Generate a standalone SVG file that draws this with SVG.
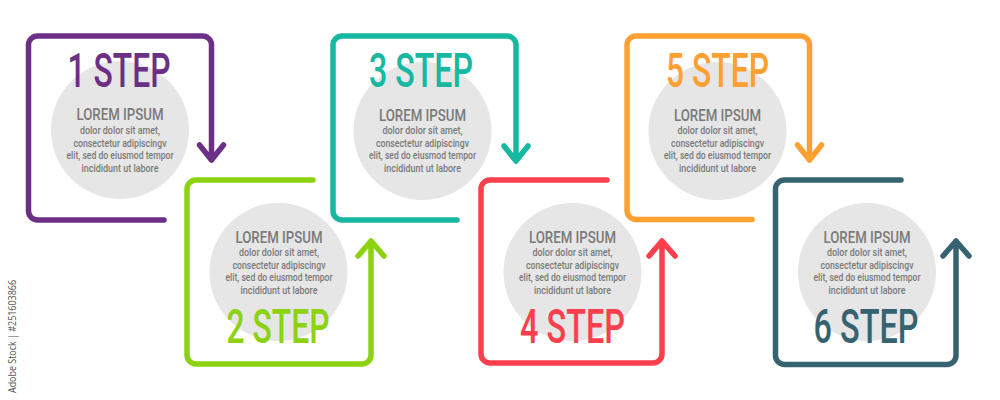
<svg xmlns="http://www.w3.org/2000/svg" width="1000" height="400" viewBox="0 0 1000 400">
<style>
.frame{fill:none;stroke-width:5.5;stroke-linecap:round;stroke-linejoin:round}
.disc{fill:#e6e6e6}
.step{font-family:Roboto,"Liberation Sans",Arial,sans-serif;font-size:48px;font-weight:500;text-anchor:middle}
.title{font-family:Roboto,"Liberation Sans",Arial,sans-serif;font-size:17px;font-weight:500;fill:#7a7a7a;text-anchor:middle}
.body{font-family:Roboto,"Liberation Sans",Arial,sans-serif;font-size:11.5px;font-weight:500;fill:#7a7a7a;text-anchor:middle}
.wm{font-family:"Open Sans","Liberation Sans",sans-serif;font-size:10px;fill:#555}
.c1{stroke:#6b2f86}.c2{stroke:#8cd211}.c3{stroke:#17b8a2}.c4{stroke:#fb3f4c}.c5{stroke:#ffa030}.c6{stroke:#376370}
</style>
<rect width="1000" height="400" fill="#ffffff"/>
<g id="connectors">
  <path class="frame c1" d="M164 220 H37.5 A9 9 0 0 1 28.5 211 V45 A9 9 0 0 1 37.5 36 H202.5 A9 9 0 0 1 211.5 45 V160 M199.5 145 L211.5 160 L223.5 145"/>
  <path class="frame c2" d="M313 180 H196 A9 9 0 0 0 187 189 V355 A9 9 0 0 0 196 364 H362 A9 9 0 0 0 371 355 V241 M358 256 L371 241 L384 256"/>
  <path class="frame c3" d="M457 220 H342 A9 9 0 0 1 333 211 V45 A9 9 0 0 1 342 36 H507 A9 9 0 0 1 516 45 V161 M504 146 L516 161 L528 146"/>
  <path class="frame c4" d="M607 180 H490 A9 9 0 0 0 481 189 V354 A9 9 0 0 0 490 363 H653 A9 9 0 0 0 662 354 V241 M649 256 L662 241 L675 256"/>
  <path class="frame c5" d="M752 219.5 H636 A9 9 0 0 1 627 210.5 V45 A9 9 0 0 1 636 36 H800.5 A9 9 0 0 1 809.5 45 V160 M797.5 145 L809.5 160 L821.5 145"/>
  <path class="frame c6" d="M901 180 H784.5 A9 9 0 0 0 775.5 189 V355.5 A9 9 0 0 0 784.5 364.5 H947 A9 9 0 0 0 956 355.5 V241 M943 256 L956 241 L969 256"/>
</g>
<g id="step1">
  <circle class="disc" cx="120" cy="130" r="69"/>
  <text class="step" x="119" y="86.5" fill="#6b2f86" textLength="103" lengthAdjust="spacingAndGlyphs">1 STEP</text>
  <text class="title" x="120" y="120" textLength="87" lengthAdjust="spacingAndGlyphs">LOREM IPSUM</text>
  <text class="body" x="120" y="134" textLength="80" lengthAdjust="spacingAndGlyphs">dolor dolor sit amet,</text>
  <text class="body" x="120" y="146.5" textLength="93" lengthAdjust="spacingAndGlyphs">consectetur adipiscingv</text>
  <text class="body" x="120" y="159" textLength="107" lengthAdjust="spacingAndGlyphs">elit, sed do eiusmod tempor</text>
  <text class="body" x="120" y="171.5" textLength="77" lengthAdjust="spacingAndGlyphs">incididunt ut labore</text>
</g>
<g id="step2">
  <circle class="disc" cx="278.5" cy="272" r="69"/>
  <text class="title" x="279" y="243" textLength="87" lengthAdjust="spacingAndGlyphs">LOREM IPSUM</text>
  <text class="body" x="279" y="256" textLength="80" lengthAdjust="spacingAndGlyphs">dolor dolor sit amet,</text>
  <text class="body" x="279" y="268.5" textLength="93" lengthAdjust="spacingAndGlyphs">consectetur adipiscingv</text>
  <text class="body" x="279" y="281" textLength="107" lengthAdjust="spacingAndGlyphs">elit, sed do eiusmod tempor</text>
  <text class="body" x="279" y="293.5" textLength="77" lengthAdjust="spacingAndGlyphs">incididunt ut labore</text>
  <text class="step" x="278" y="343" fill="#8cd211" textLength="103" lengthAdjust="spacingAndGlyphs">2 STEP</text>
</g>
<g id="step3">
  <circle class="disc" cx="422.5" cy="131" r="69"/>
  <text class="step" x="421" y="86.5" fill="#17b8a2" textLength="104" lengthAdjust="spacingAndGlyphs">3 STEP</text>
  <text class="title" x="422.5" y="120.5" textLength="87" lengthAdjust="spacingAndGlyphs">LOREM IPSUM</text>
  <text class="body" x="422.5" y="134" textLength="80" lengthAdjust="spacingAndGlyphs">dolor dolor sit amet,</text>
  <text class="body" x="422.5" y="146.5" textLength="93" lengthAdjust="spacingAndGlyphs">consectetur adipiscingv</text>
  <text class="body" x="422.5" y="159" textLength="107" lengthAdjust="spacingAndGlyphs">elit, sed do eiusmod tempor</text>
  <text class="body" x="422.5" y="171.5" textLength="77" lengthAdjust="spacingAndGlyphs">incididunt ut labore</text>
</g>
<g id="step4">
  <circle class="disc" cx="572.5" cy="272" r="69"/>
  <text class="title" x="572.5" y="243" textLength="87" lengthAdjust="spacingAndGlyphs">LOREM IPSUM</text>
  <text class="body" x="572.5" y="256" textLength="80" lengthAdjust="spacingAndGlyphs">dolor dolor sit amet,</text>
  <text class="body" x="572.5" y="268.5" textLength="93" lengthAdjust="spacingAndGlyphs">consectetur adipiscingv</text>
  <text class="body" x="572.5" y="281" textLength="107" lengthAdjust="spacingAndGlyphs">elit, sed do eiusmod tempor</text>
  <text class="body" x="572.5" y="293.5" textLength="77" lengthAdjust="spacingAndGlyphs">incididunt ut labore</text>
  <text class="step" x="572.5" y="343" fill="#fb3f4c" textLength="105" lengthAdjust="spacingAndGlyphs">4 STEP</text>
</g>
<g id="step5">
  <circle class="disc" cx="717.5" cy="131" r="69"/>
  <text class="step" x="717.5" y="86.5" fill="#ffa030" textLength="103" lengthAdjust="spacingAndGlyphs">5 STEP</text>
  <text class="title" x="717.5" y="120.5" textLength="87" lengthAdjust="spacingAndGlyphs">LOREM IPSUM</text>
  <text class="body" x="717.5" y="134" textLength="80" lengthAdjust="spacingAndGlyphs">dolor dolor sit amet,</text>
  <text class="body" x="717.5" y="146.5" textLength="93" lengthAdjust="spacingAndGlyphs">consectetur adipiscingv</text>
  <text class="body" x="717.5" y="159" textLength="107" lengthAdjust="spacingAndGlyphs">elit, sed do eiusmod tempor</text>
  <text class="body" x="717.5" y="171.5" textLength="77" lengthAdjust="spacingAndGlyphs">incididunt ut labore</text>
</g>
<g id="step6">
  <circle class="disc" cx="867" cy="272" r="69"/>
  <text class="title" x="867" y="243" textLength="87" lengthAdjust="spacingAndGlyphs">LOREM IPSUM</text>
  <text class="body" x="867" y="256" textLength="80" lengthAdjust="spacingAndGlyphs">dolor dolor sit amet,</text>
  <text class="body" x="867" y="268.5" textLength="93" lengthAdjust="spacingAndGlyphs">consectetur adipiscingv</text>
  <text class="body" x="867" y="281" textLength="107" lengthAdjust="spacingAndGlyphs">elit, sed do eiusmod tempor</text>
  <text class="body" x="867" y="293.5" textLength="77" lengthAdjust="spacingAndGlyphs">incididunt ut labore</text>
  <text class="step" x="866" y="343" fill="#376370" textLength="105" lengthAdjust="spacingAndGlyphs">6 STEP</text>
</g>
<text class="wm" transform="translate(16 393) rotate(-90)" textLength="113" lengthAdjust="spacingAndGlyphs">Adobe Stock | #251603866</text>
</svg>
